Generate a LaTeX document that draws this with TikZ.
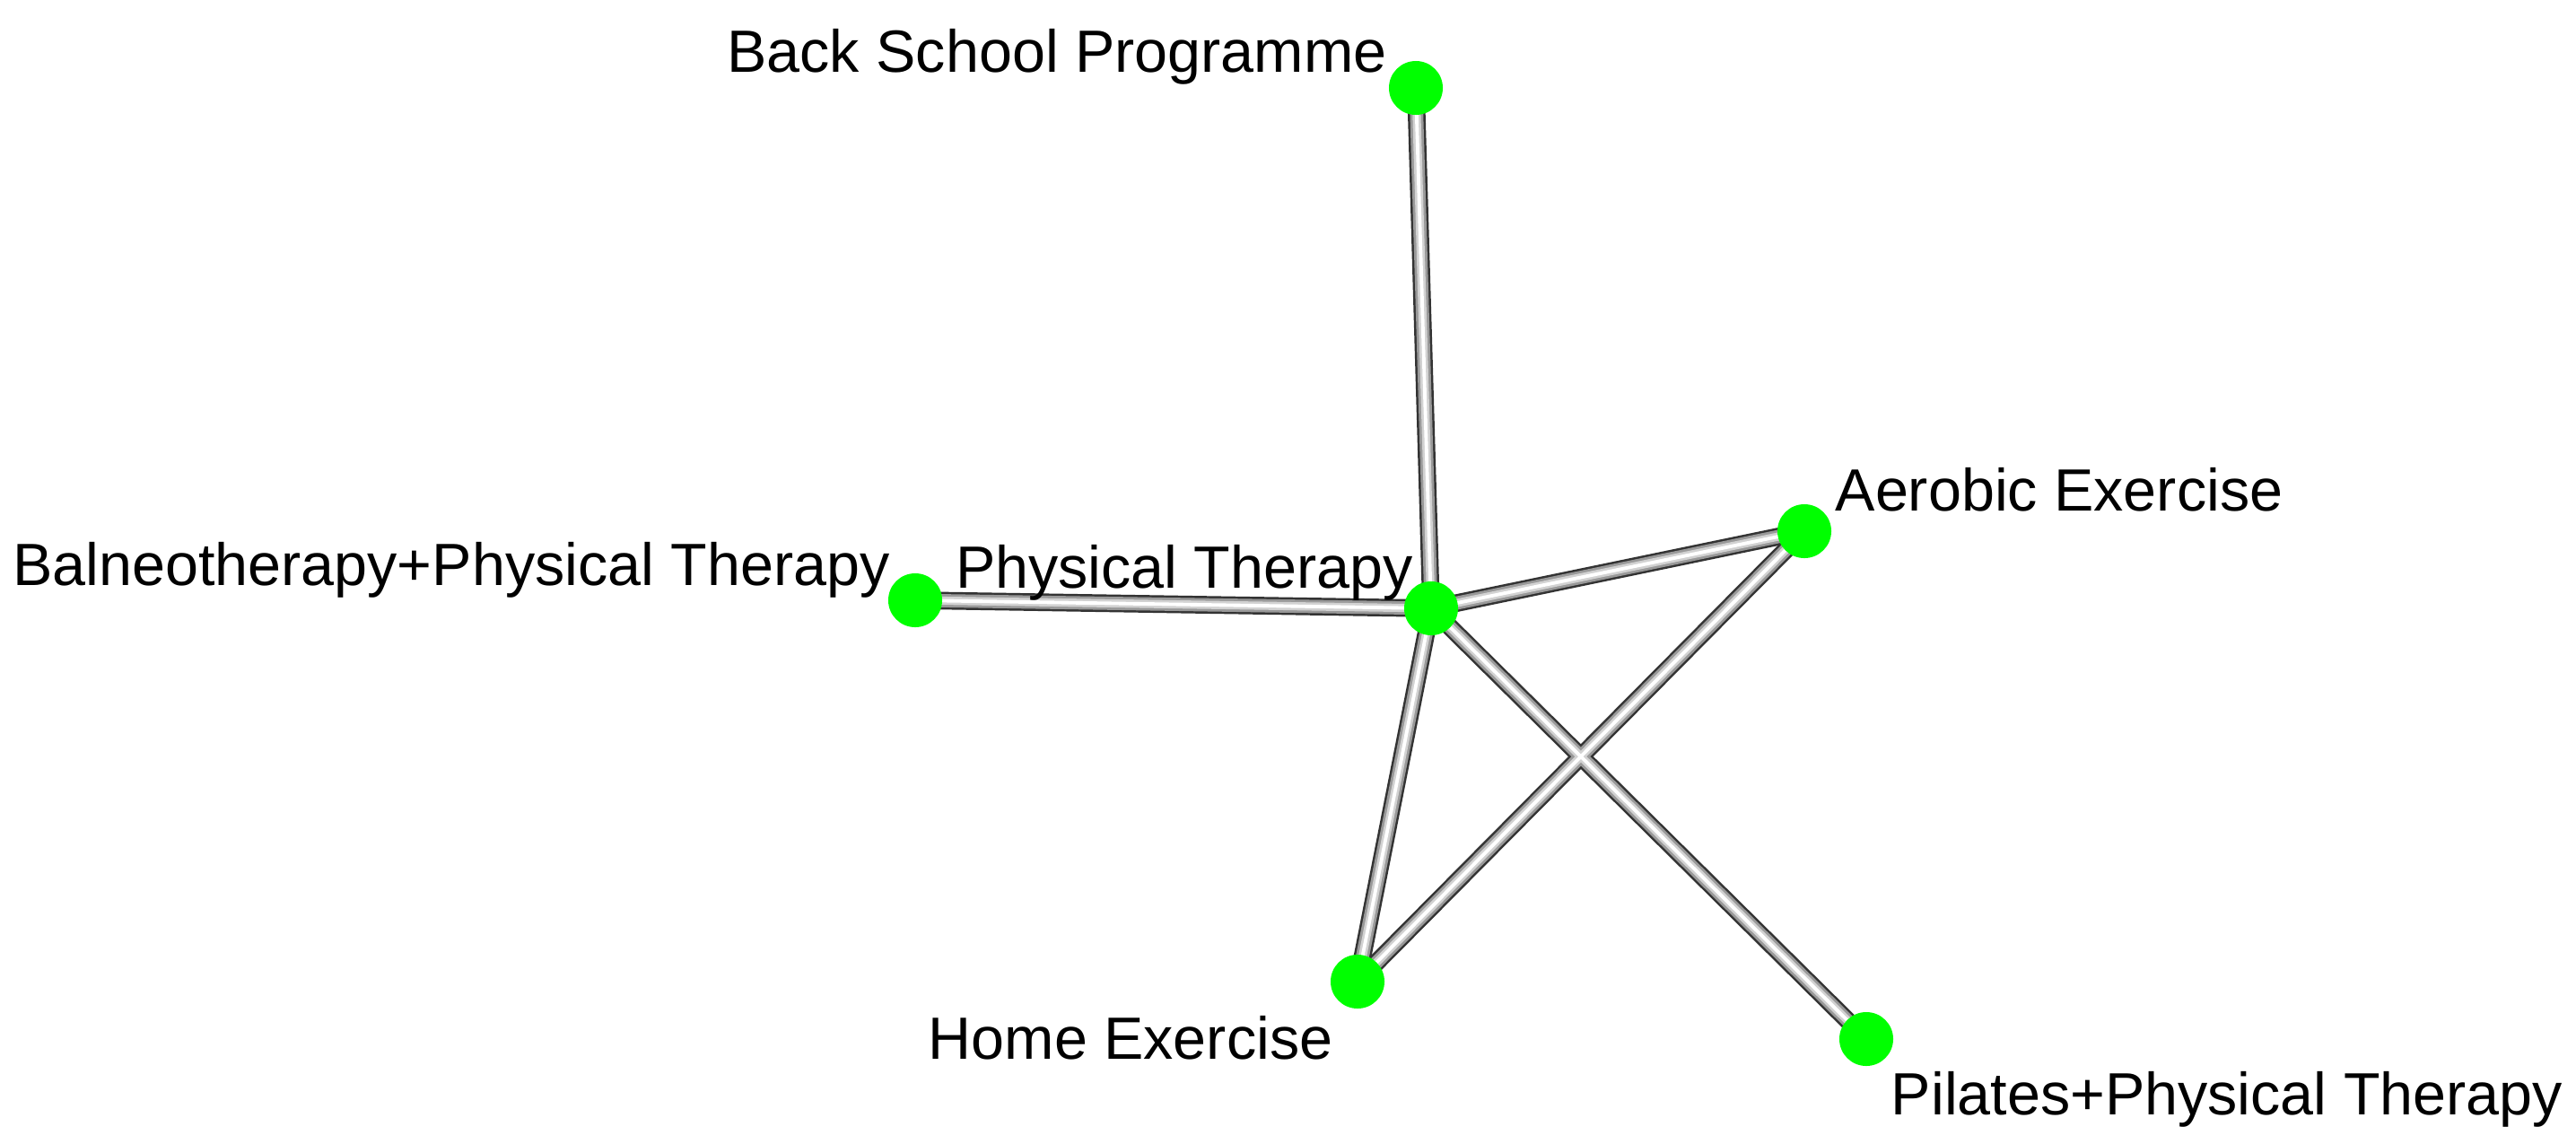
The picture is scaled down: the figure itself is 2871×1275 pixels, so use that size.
\documentclass[tikz,border=0pt]{standalone}
\usepackage{fontspec}
\setmainfont{Liberation Sans}
\usetikzlibrary{backgrounds}
\definecolor{nodegreen}{RGB}{0,255,0}
\tikzset{
  vtx/.style={circle, fill=nodegreen, draw=none, minimum size=0.6cm, inner sep=0pt},
  lbl/.style={anchor=base, inner sep=0pt, font=\fontsize{18.9pt}{22pt}\selectfont, text=black},
  edgeA/.style={line width=5.6pt, draw=black!80},
  edgeB/.style={line width=4.2pt, draw=gray!80},
  edgeC/.style={line width=2.6pt, draw=gray!35},
  edgeD/.style={line width=1.1pt, draw=white},
}
\begin{document}
\begin{tikzpicture}[x=0.01cm, y=-0.01cm]
\useasboundingbox (0,0) rectangle (2871,1275);
% vertices
\node[vtx] (pt) at (1595,678) {};
\node[vtx] (bs) at (1578,98) {};
\node[vtx] (ba) at (1020,669) {};
\node[vtx] (ae) at (2011,592) {};
\node[vtx] (he) at (1513,1094) {};
\node[vtx] (pi) at (2080,1158) {};
% edges
\begin{scope}[on background layer]
\foreach \s in {edgeA,edgeB,edgeC,edgeD}{
  \draw[\s] (pt.center) -- (bs.center);
  \draw[\s] (pt.center) -- (ba.center);
  \draw[\s] (pt.center) -- (ae.center);
  \draw[\s] (pt.center) -- (he.center);
  \draw[\s] (pt.center) -- (pi.center);
  \draw[\s] (ae.center) -- (he.center);
}
\end{scope}
% labels
\node[lbl] (lbs) at (1178,80) {Back School Programme};
\node[lbl] (lpt) at (1320,655) {Physical Therapy};
\node[lbl] (lba) at (503,652) {Balneotherapy+Physical Therapy};
\node[lbl] (lae) at (2295,569) {Aerobic Exercise};
\node[lbl] (lhe) at (1260,1180) {Home Exercise};
\node[lbl] (lpi) at (2482,1242) {Pilates+Physical Therapy};
\end{tikzpicture}
\end{document}
